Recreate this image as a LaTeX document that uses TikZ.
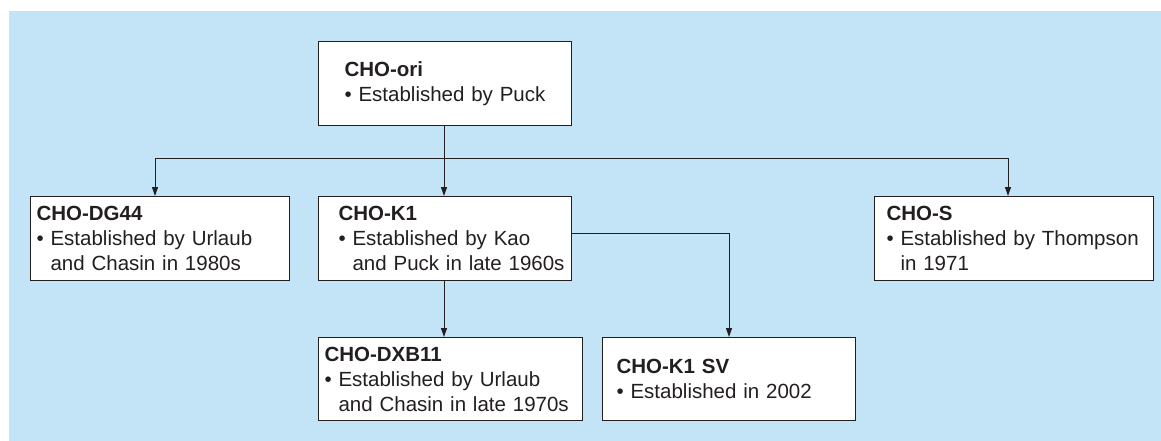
\documentclass[tikz,border=0pt]{standalone}
\usepackage{fontspec}
\setmainfont{Liberation Sans}
\usetikzlibrary{arrows.meta}
\definecolor{bgblue}{RGB}{194,228,246}
\definecolor{ink}{RGB}{35,31,32}
\tikzset{
  box/.style={draw=ink, line width=1.1pt, fill=white, rectangle, anchor=north west,
    align=left, inner ysep=0pt, text=ink,
    font=\fontsize{20.5}{25}\selectfont},
  arr/.style={draw=ink, line width=1pt, -{Triangle[length=9pt,width=6pt]}},
  conn/.style={draw=ink, line width=1pt}
}
\newcommand{\ind}{\hphantom{\textbullet\ }}
\begin{document}
\begin{tikzpicture}[x=1pt,y=-1pt]
\useasboundingbox (0,0) rectangle (1161,441);
\fill[bgblue] (9,11) rectangle (1161,441);

\node[box, text width=201pt, inner xsep=26pt, minimum height=84pt] (ori) at (318,41)
  {\textbf{CHO-ori}\\\textbullet\ Established by Puck};
\node[box, text width=247pt, inner xsep=6pt, minimum height=84pt] (dg44) at (30,196)
  {\textbf{CHO-DG44}\\\textbullet\ Established by Urlaub\\\ind and Chasin in 1980s};
\node[box, text width=213pt, inner xsep=20pt, minimum height=84pt] (k1) at (318,196)
  {\textbf{CHO-K1}\\\mbox{\textbullet\ Established by Kao}\\\mbox{\ind and Puck in late 1960s}};
\node[box, text width=255pt, inner xsep=12pt, minimum height=84pt] (chos) at (874,196)
  {\textbf{CHO-S}\\\textbullet\ Established by Thompson\\\ind in 1971};
\node[box, text width=252pt, inner xsep=6pt, minimum height=83pt] (dxb) at (318,337)
  {\textbf{CHO-DXB11}\\\textbullet\ Established by Urlaub\\\ind and Chasin in late 1970s};
\node[box, text width=225pt, inner xsep=14pt, minimum height=83pt] (k1sv) at (602,337)
  {\textbf{CHO-K1 SV}\\\textbullet\ Established in 2002};

\coordinate (hub) at (444,158);
\coordinate (dgin) at (155,196);
\coordinate (sin) at (1008,196);
\coordinate (k1out) at (571,233);
\coordinate (svin) at (729,337);
\coordinate (k1bot) at (444,280);
\coordinate (dxbin) at (444,337);

\draw[arr] (ori.south -| hub) -- (k1.north -| hub);
\draw[arr] (hub) -| (dgin);
\draw[arr] (hub) -| (sin);
\draw[arr] (k1out) -| (svin);
\draw[arr] (k1bot) -- (dxbin);
\end{tikzpicture}
\end{document}
